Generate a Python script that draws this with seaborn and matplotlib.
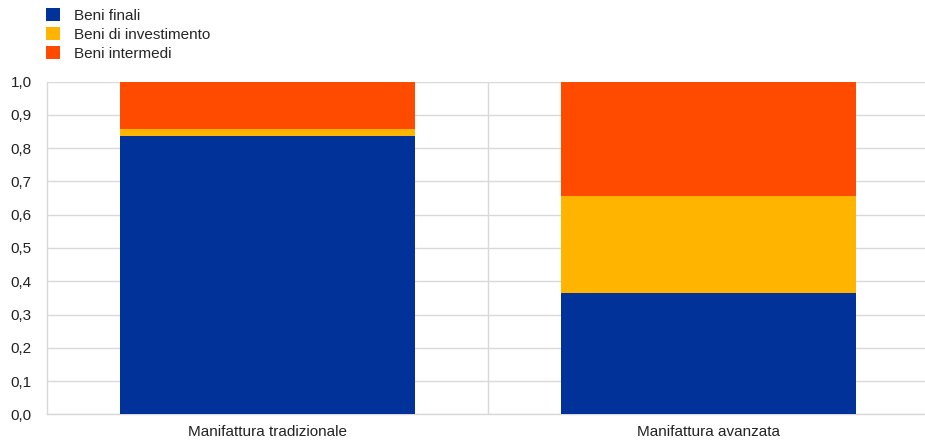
import matplotlib
matplotlib.use("Agg")
import matplotlib.pyplot as plt
from matplotlib.patches import Patch
import seaborn as sns
import pandas as pd
import numpy as np

categories = ["Manifattura tradizionale", "Manifattura avanzata"]
series_names = ["Beni finali", "Beni di investimento", "Beni intermedi"]
beni_finali = [0.838, 0.364]
beni_investimento = [0.019, 0.293]
beni_intermedi = [0.143, 0.343]
colors = ["#003299", "#FFB400", "#FF4B00"]
yticks = [0.0, 0.1, 0.2, 0.3, 0.4, 0.5, 0.6, 0.7, 0.8, 0.9, 1.0]

sns.set_theme(style="white")
plt.rcParams["font.family"] = ["Liberation Sans", "DejaVu Sans"]

fig = plt.figure(figsize=(9.25, 4.41), dpi=100)
ax = fig.add_axes([47 / 925, 1 - 414.3 / 441, (929 - 47) / 925, (414.3 - 81.7) / 441])

df = pd.DataFrame({
    "cat": categories,
    "s1": np.array(beni_finali),
    "s2": np.array(beni_finali) + np.array(beni_investimento),
    "s3": np.array(beni_finali) + np.array(beni_investimento) + np.array(beni_intermedi),
})

for col, color in zip(["s3", "s2", "s1"], colors[::-1]):
    sns.barplot(data=df, x="cat", y=col, color=color, width=0.667,
                saturation=1, ax=ax, zorder=3, linewidth=0)

ax.set_xlim(-0.5, 1.5)
ax.set_ylim(0, 1.0)
ax.set_yticks(yticks)
ax.set_yticklabels([f"{v:.1f}".replace(".", ",") for v in yticks])
ax.set_xlabel("")
ax.set_ylabel("")
ax.tick_params(axis="both", length=0, labelsize=11, colors="#222222")
ax.tick_params(axis="y", pad=11)
ax.tick_params(axis="x", pad=8)
ax.grid(axis="y", color="#d9d9d9", linewidth=1, zorder=0)
ax.axvline(0.5, color="#d9d9d9", linewidth=1, zorder=0)
for side in ["top", "right"]:
    ax.spines[side].set_visible(False)
for side in ["left", "bottom"]:
    ax.spines[side].set_color("#d9d9d9")
    ax.spines[side].set_linewidth(1)

handles = [Patch(facecolor=c, edgecolor="none", label=n) for c, n in zip(colors, series_names)]
fig.legend(handles=handles, loc="upper left", bbox_to_anchor=(46 / 925, 1 - 8 / 441),
           frameon=False, fontsize=11, handlelength=0.9, handleheight=0.9,
           handletextpad=0.95, labelspacing=0.29, borderaxespad=0, borderpad=0)

fig.savefig("out.png", dpi=100)
